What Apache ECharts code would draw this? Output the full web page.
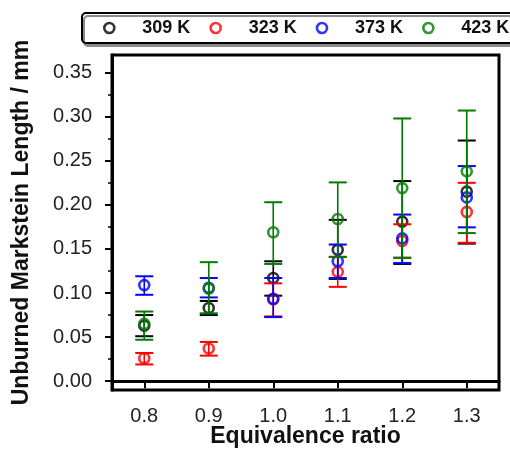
<!DOCTYPE html>
<html>
<head>
<meta charset="utf-8">
<script src="https://cdn.jsdelivr.net/npm/echarts@6/dist/echarts.min.js"></script>
<style>
html,body{margin:0;padding:0;background:#fff;}
#c{width:510px;height:451px;}
</style>
</head>
<body>
<div id="c"></div>
<script>
// ---- data ----
const categories = ['0.8', '0.9', '1.0', '1.1', '1.2', '1.3'];
const seriesNames = ['309 K', '323 K', '373 K', '423 K'];
const yTickLabels = [0, 0.05, 0.10, 0.15, 0.20, 0.25, 0.30, 0.35];
const yMinorTicks = [0.025, 0.075, 0.125, 0.175, 0.225, 0.275, 0.325];

const val309 = [0.063, 0.083, 0.117, 0.149, 0.181, 0.215];
const hi309  = [0.075, 0.091, 0.136, 0.183, 0.227, 0.273];
const lo309  = [0.051, 0.075, 0.097, 0.116, 0.133, 0.156];

const val323 = [0.026, 0.037, 0.093, 0.124, 0.159, 0.192];
const hi323  = [0.032, 0.0445, 0.111, 0.141, 0.178, 0.225];
const lo323  = [0.019, 0.029, 0.0735, 0.107, 0.140, 0.157];

const val373 = [0.109, 0.106, 0.0935, 0.136, 0.162, 0.2085];
const hi373  = [0.119, 0.117, 0.117, 0.155, 0.189, 0.244];
const lo373  = [0.098, 0.095, 0.0727, 0.117, 0.134, 0.1745];

const val423 = [0.065, 0.105, 0.169, 0.184, 0.219, 0.238];
const hi423  = [0.079, 0.135, 0.203, 0.2255, 0.298, 0.307];
const lo423  = [0.047, 0.077, 0.133, 0.141, 0.140, 0.168];

const colors = ['#000000', '#ff0000', '#0000ff', '#007a00'];
const vals = [val309, val323, val373, val423];
const his = [hi309, hi323, hi373, hi423];
const los = [lo309, lo323, lo373, lo423];

const FONT = "'Liberation Sans', Arial, sans-serif";

const series = [];
seriesNames.forEach((name, k) => {
  const c = colors[k];
  series.push({
    name: name + ' err',
    type: 'custom',
    z: 2 + k,
    data: categories.map((_, i) => [i, los[k][i], his[k][i]]),
    encode: { x: 0, y: [1, 2] },
    renderItem: function (params, api) {
      const x = api.value(0);
      const p1 = api.coord([x, api.value(2)]);
      const p2 = api.coord([x, api.value(1)]);
      const hw = 9;
      return {
        type: 'group',
        children: [
          { type: 'line', shape: { x1: p1[0], y1: p1[1], x2: p2[0], y2: p2[1] }, style: { stroke: c, lineWidth: 1.6 } },
          { type: 'line', shape: { x1: p1[0] - hw, y1: p1[1], x2: p1[0] + hw, y2: p1[1] }, style: { stroke: c, lineWidth: 2 } },
          { type: 'line', shape: { x1: p2[0] - hw, y1: p2[1], x2: p2[0] + hw, y2: p2[1] }, style: { stroke: c, lineWidth: 2 } }
        ]
      };
    }
  });
  series.push({
    name: name,
    type: 'scatter',
    z: 2 + k,
    symbol: 'circle',
    symbolSize: 10,
    itemStyle: { color: 'rgba(255,255,255,0)', borderColor: c, borderWidth: 2.6 },
    data: categories.map((_, i) => [i, vals[k][i]])
  });
});

const chart = echarts.init(document.getElementById('c'), null, { renderer: 'canvas' });
chart.setOption({
  animation: false,
  backgroundColor: '#fff',
  textStyle: { fontFamily: FONT },
  legend: {
    data: seriesNames,
    left: 82,
    top: 13,
    width: 1000,
    orient: 'horizontal',
    padding: [6, 20, 6, 21],
    itemWidth: 10,
    itemHeight: 10,
    itemGap: 19,
    itemStyle: { borderWidth: 2.6 },
    backgroundColor: '#fff',
    borderColor: '#000',
    borderWidth: 2,
    borderRadius: 4,
    shadowColor: '#8a8a8a',
    shadowBlur: 0,
    shadowOffsetX: 2,
    shadowOffsetY: 3,
    textStyle: { fontFamily: FONT, fontWeight: 'bold', fontSize: 18, color: '#111', padding: [0, 0, 0, 23] }
  },
  grid: {
    left: 112, right: 11, top: 55, bottom: 61,
    containLabel: false,
    outerBoundsMode: 'none',
    show: true, borderColor: '#000', borderWidth: 3, backgroundColor: '#fff'
  },
  xAxis: {
    type: 'category',
    data: categories,
    boundaryGap: true,
    name: 'Equivalence ratio',
    nameLocation: 'middle',
    nameGap: 35,
    nameMoveOverlap: false,
    nameTextStyle: { fontFamily: FONT, fontWeight: 'bold', fontSize: 23, color: '#111' },
    axisLine: { show: true, lineStyle: { color: '#000', width: 3 } },
    axisTick: { show: true, alignWithLabel: true, length: 7, lineStyle: { color: '#000', width: 2 } },
    axisLabel: { fontFamily: FONT, fontSize: 20, color: '#222', margin: 16 },
    splitLine: { show: false }
  },
  yAxis: [{
    type: 'value',
    min: -0.01,
    max: 0.37,
    name: 'Unburned Markstein Length / mm',
    nameLocation: 'middle',
    nameGap: 79,
    nameMoveOverlap: false,
    nameTextStyle: { fontFamily: FONT, fontWeight: 'bold', fontSize: 23, color: '#111' },
    axisLine: { show: true, lineStyle: { color: '#000', width: 3 } },
    axisTick: { show: true, length: 7, customValues: yTickLabels, lineStyle: { color: '#000', width: 2 } },
    axisLabel: { fontFamily: FONT, fontSize: 20, color: '#222', margin: 20, customValues: yTickLabels,
      formatter: v => Number(v).toFixed(2) },
    splitLine: { show: false }
  }, {
    type: 'value',
    min: -0.01,
    max: 0.37,
    position: 'left',
    axisLine: { show: false },
    axisTick: { show: true, length: 4, customValues: yMinorTicks, lineStyle: { color: '#000', width: 1.5 } },
    axisLabel: { show: false },
    splitLine: { show: false }
  }],
  series: series
});
</script>
</body>
</html>
